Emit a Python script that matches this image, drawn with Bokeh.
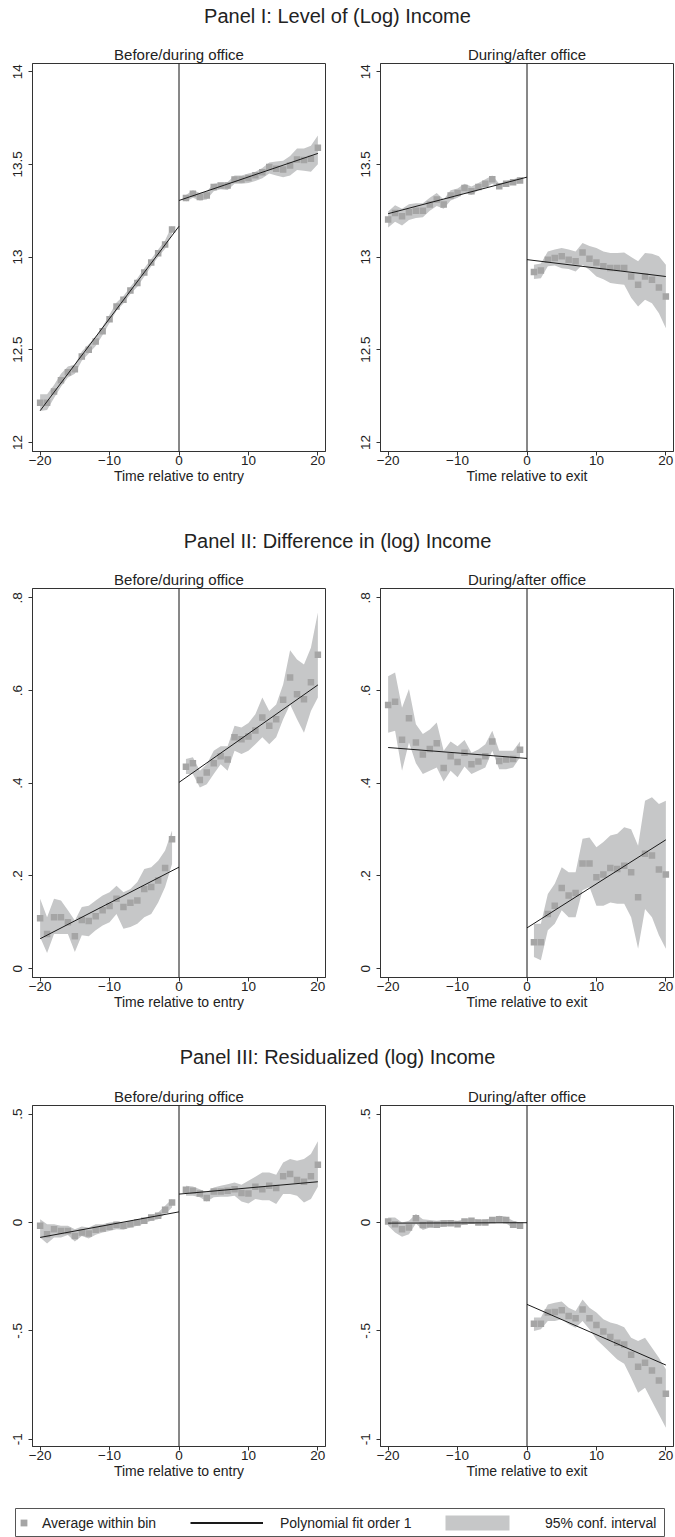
from bokeh.plotting import figure
from bokeh.layouts import column, row
from bokeh.models import Div, Span, FixedTicker, Legend, LegendItem
from bokeh.embed import file_html
from bokeh.resources import INLINE

FONT = "Liberation Sans"
TXT = "#222222"
PT = "#a5a5a5"
BAND = "#c6c7c8"
LINE = "#1a1a1a"
FRAME = "#333333"
NAN = float("nan")

# ---------------- data ----------------
x_before = [-20, -19, -18, -17, -16, -15, -14, -13, -12, -11,
            -10, -9, -8, -7, -6, -5, -4, -3, -2, -1]
x_after = [1, 2, 3, 4, 5, 6, 7, 8, 9, 10,
           11, 12, 13, 14, 15, 16, 17, 18, 19, 20]
fit_x_before = [-20, 0]
fit_x_after = [0, 20]

panel_titles = ["Panel I: Level of (Log) Income",
                "Panel II: Difference in (log) Income",
                "Panel III: Residualized (log) Income"]
sub_titles = ["Before/during office", "During/after office"]
x_labels = ["Time relative to entry", "Time relative to exit"]
x_ticks = [-20, -10, 0, 10, 20]

y_ticks_1 = [12, 12.5, 13, 13.5, 14]
y_tick_labels_1 = ["12", "12.5", "13", "13.5", "14"]
y_ticks_2 = [0, 0.2, 0.4, 0.6, 0.8]
y_tick_labels_2 = ["0", ".2", ".4", ".6", ".8"]
y_ticks_3 = [-1, -0.5, 0, 0.5]
y_tick_labels_3 = ["-1", "-.5", "0", ".5"]

# Panel I, entry
p1a_pts_before = [12.214, 12.214, 12.275, 12.336, 12.378, 12.395, 12.463, 12.500, 12.544, 12.600,
                  12.665, 12.733, 12.770, 12.820, 12.860, 12.917, 12.970, 13.020, 13.067, 13.148]
p1a_lo_before = [12.170, 12.175, 12.240, 12.300, 12.350, 12.370, 12.440, 12.480, 12.520, 12.580,
                 12.645, 12.710, 12.750, 12.800, 12.840, 12.895, 12.950, 13.000, 13.045, 13.125]
p1a_hi_before = [12.260, 12.260, 12.310, 12.370, 12.410, 12.420, 12.490, 12.530, 12.570, 12.625,
                 12.690, 12.755, 12.790, 12.840, 12.885, 12.940, 12.990, 13.040, 13.090, 13.170]
p1a_fit_before = [12.171, 13.166]
p1a_pts_after = [13.319, 13.342, 13.324, 13.332, 13.378, 13.386, 13.386, 13.418, 13.418, 13.427,
                 13.441, 13.458, 13.486, 13.476, 13.472, 13.494, 13.526, 13.523, 13.530, 13.589]
p1a_lo_after = [13.300, 13.320, 13.305, 13.310, 13.355, 13.365, 13.362, 13.395, 13.395, 13.400,
                13.410, 13.425, 13.450, 13.440, 13.430, 13.440, 13.470, 13.465, 13.460, 13.500]
p1a_hi_after = [13.335, 13.360, 13.345, 13.355, 13.395, 13.400, 13.405, 13.440, 13.440, 13.450,
                13.460, 13.480, 13.510, 13.515, 13.520, 13.545, 13.585, 13.585, 13.600, 13.655]
p1a_fit_after = [13.305, 13.559]

# Panel I, exit
p1b_pts_before = [13.202, 13.238, 13.220, 13.241, 13.250, 13.250, 13.283, 13.310, 13.283, 13.332,
                  13.346, 13.373, 13.355, 13.378, 13.396, 13.420, 13.382, 13.396, 13.404, 13.413]
p1b_lo_before = [13.160, 13.190, 13.170, 13.200, 13.210, 13.215, 13.250, 13.275, 13.260, 13.305,
                 13.320, 13.345, 13.335, 13.360, 13.375, 13.395, 13.370, 13.385, 13.390, 13.400]
p1b_hi_before = [13.245, 13.280, 13.260, 13.285, 13.290, 13.290, 13.320, 13.345, 13.310, 13.360,
                 13.370, 13.395, 13.380, 13.400, 13.420, 13.440, 13.395, 13.410, 13.420, 13.430]
p1b_fit_before = [13.234, 13.431]
p1b_pts_after = [12.919, 12.928, 12.986, 12.995, 13.004, 12.986, 12.977, 13.025, 12.991, 12.971,
                 12.950, 12.941, 12.941, 12.941, 12.895, 12.850, 12.895, 12.877, 12.836, 12.787]
p1b_lo_after = [12.881, 12.885, 12.950, 12.955, 12.940, 12.935, 12.922, 12.959, 12.930, 12.895,
                12.880, 12.860, 12.855, 12.850, 12.780, 12.733, 12.770, 12.751, 12.697, 12.616]
p1b_hi_after = [12.959, 12.965, 13.030, 13.040, 13.049, 13.040, 13.030, 13.076, 13.060, 13.049,
                13.030, 13.022, 13.022, 13.025, 13.000, 12.977, 13.022, 13.018, 13.004, 12.959]
p1b_fit_after = [12.986, 12.895]

# Panel II, entry
p2a_pts_before = [0.109, 0.075, 0.111, 0.111, 0.100, 0.070, 0.105, 0.103, 0.113, 0.126,
                  0.135, 0.151, 0.133, 0.142, 0.147, 0.172, 0.176, 0.190, 0.217, 0.279]
p2a_lo_before = [0.068, 0.034, 0.075, 0.075, 0.075, 0.036, 0.072, 0.070, 0.083, 0.093,
                 0.100, 0.118, 0.086, 0.090, 0.097, 0.111, 0.118, 0.143, 0.176, 0.226]
p2a_hi_before = [0.151, 0.111, 0.151, 0.147, 0.126, 0.104, 0.133, 0.136, 0.147, 0.158,
                 0.165, 0.179, 0.165, 0.172, 0.187, 0.215, 0.219, 0.233, 0.255, 0.298]
p2a_fit_before = [0.0646, 0.219]
p2a_pts_after = [0.4355, 0.443, 0.407, 0.423, 0.443, 0.458, 0.451, 0.499, 0.495, 0.501,
                 0.514, 0.542, 0.524, 0.538, 0.580, 0.628, 0.592, 0.581, 0.618, 0.677]
p2a_lo_after = [0.420, 0.420, 0.391, 0.398, 0.420, 0.441, 0.427, 0.470, 0.463, 0.470,
                0.484, 0.499, 0.484, 0.499, 0.538, 0.570, 0.538, 0.509, 0.556, 0.585]
p2a_hi_after = [0.452, 0.456, 0.427, 0.441, 0.470, 0.480, 0.480, 0.524, 0.520, 0.530,
                0.549, 0.585, 0.556, 0.570, 0.613, 0.687, 0.667, 0.656, 0.692, 0.768]
p2a_fit_after = [0.4018, 0.612]

# Panel II, exit
p2b_pts_before = [0.569, 0.576, 0.494, 0.540, 0.488, 0.462, 0.474, 0.486, 0.433, 0.458,
                  0.446, 0.466, 0.441, 0.447, 0.458, 0.490, 0.448, 0.451, 0.452, 0.472]
p2b_lo_before = [0.509, 0.513, 0.427, 0.488, 0.443, 0.420, 0.427, 0.434, 0.404, 0.427,
                 0.413, 0.436, 0.420, 0.427, 0.434, 0.470, 0.430, 0.430, 0.434, 0.456]
p2b_hi_before = [0.631, 0.639, 0.563, 0.603, 0.527, 0.506, 0.516, 0.531, 0.470, 0.490,
                 0.480, 0.493, 0.466, 0.473, 0.484, 0.513, 0.470, 0.470, 0.470, 0.490]
p2b_fit_before = [0.477, 0.4535]
p2b_pts_after = [0.057, 0.057, 0.118, 0.136, 0.174, 0.158, 0.163, 0.227, 0.227, 0.197,
                 0.203, 0.217, 0.215, 0.222, 0.208, 0.154, 0.248, 0.244, 0.214, 0.203]
p2b_lo_after = [0.025, 0.018, 0.083, 0.097, 0.126, 0.111, 0.111, 0.169, 0.176, 0.136,
                0.136, 0.143, 0.140, 0.140, 0.111, 0.043, 0.129, 0.111, 0.072, 0.043]
p2b_hi_after = [0.097, 0.097, 0.161, 0.183, 0.219, 0.208, 0.208, 0.280, 0.283, 0.262,
                0.273, 0.287, 0.291, 0.305, 0.301, 0.265, 0.362, 0.370, 0.355, 0.362]
p2b_fit_after = [0.088, 0.278]

# Panel III, entry
p3a_pts_before = [-0.015, -0.054, -0.031, -0.039, -0.039, -0.062, -0.046, -0.051, -0.034, -0.028,
                  -0.020, -0.011, -0.015, -0.008, 0.000, 0.008, 0.023, 0.031, 0.059, 0.092]
p3a_lo_before = [-0.069, -0.097, -0.069, -0.069, -0.058, -0.088, -0.062, -0.074, -0.057, -0.046,
                 -0.039, -0.031, -0.034, -0.023, -0.015, -0.005, 0.008, 0.015, 0.039, 0.069]
p3a_hi_before = [0.015, -0.008, -0.008, -0.015, -0.015, -0.031, -0.018, -0.023, -0.008, -0.008,
                 0.000, 0.003, 0.000, 0.008, 0.011, 0.018, 0.034, 0.046, 0.077, 0.108]
p3a_fit_before = [-0.069, 0.049]
p3a_pts_after = [0.151, 0.146, 0.134, 0.113, 0.143, 0.143, 0.146, 0.154, 0.136, 0.134,
                 0.165, 0.154, 0.170, 0.159, 0.213, 0.224, 0.196, 0.188, 0.213, 0.267]
p3a_lo_after = [0.123, 0.123, 0.116, 0.097, 0.116, 0.119, 0.119, 0.123, 0.097, 0.088,
                0.108, 0.103, 0.103, 0.085, 0.131, 0.131, 0.123, 0.092, 0.108, 0.165]
p3a_hi_after = [0.170, 0.166, 0.154, 0.139, 0.162, 0.170, 0.177, 0.185, 0.174, 0.193,
                0.211, 0.231, 0.231, 0.220, 0.277, 0.293, 0.285, 0.293, 0.316, 0.375]
p3a_fit_after = [0.131, 0.188]

# Panel III, exit
p3b_pts_before = [0.005, -0.008, -0.031, -0.023, 0.020, -0.012, -0.008, -0.011, -0.005, -0.003,
                  -0.008, 0.005, 0.008, 0.000, 0.000, 0.012, 0.015, 0.012, -0.011, -0.015]
p3b_lo_before = [-0.015, -0.046, -0.066, -0.054, -0.005, -0.035, -0.023, -0.026, -0.018, -0.015,
                 -0.018, -0.008, -0.005, -0.011, -0.011, 0.000, 0.000, -0.005, -0.026, -0.026]
p3b_hi_before = [0.023, 0.023, 0.000, 0.008, 0.039, 0.015, 0.011, 0.008, 0.011, 0.011,
                 0.008, 0.015, 0.020, 0.011, 0.011, 0.023, 0.031, 0.026, 0.008, 0.000]
p3b_fit_before = [-0.003, -0.001]
p3b_pts_after = [-0.467, -0.467, -0.416, -0.413, -0.405, -0.432, -0.442, -0.402, -0.442, -0.473,
                 -0.503, -0.529, -0.555, -0.563, -0.611, -0.666, -0.647, -0.683, -0.729, -0.791]
p3b_lo_after = [-0.501, -0.493, -0.455, -0.455, -0.447, -0.470, -0.486, -0.455, -0.493, -0.540,
                -0.570, -0.601, -0.632, -0.652, -0.717, -0.786, -0.763, -0.825, -0.886, -0.948]
p3b_hi_after = [-0.439, -0.439, -0.378, -0.370, -0.365, -0.393, -0.408, -0.355, -0.393, -0.416,
                -0.447, -0.462, -0.470, -0.483, -0.532, -0.547, -0.532, -0.578, -0.624, -0.678]
p3b_fit_after = [-0.378, -0.658]

legend_labels = ["Average within bin", "Polynomial fit order 1", "95% conf. interval"]


def make_panel(sub, xlabel, yrange, yticks, ylabels, d, left, height, btop, bbot):
    p = figure(width=356 if left else 319, height=height,
               x_range=(-21.1, 21.1), y_range=yrange,
               output_backend="svg", toolbar_location=None,
               min_border_left=32 if left else 24, min_border_right=31 if left else 2,
               min_border_top=btop, min_border_bottom=bbot, title=sub)
    p.title.align = "center"
    p.title.text_font = FONT
    p.title.text_font_size = "15px"
    p.title.text_font_style = "normal"
    p.title.text_color = TXT
    p.title.standoff = 2
    p.xgrid.visible = False
    p.ygrid.visible = False
    p.outline_line_color = FRAME
    p.outline_line_width = 1
    p.background_fill_color = "white"
    p.border_fill_color = "white"

    for ax in (p.xaxis[0], p.yaxis[0]):
        ax.axis_line_color = FRAME
        ax.major_tick_line_color = FRAME
        ax.minor_tick_line_color = None
        ax.major_tick_out = 4
        ax.major_tick_in = 0
        ax.major_label_text_font = FONT
        ax.major_label_text_font_size = "13.5px"
        ax.major_label_text_color = TXT

    p.xaxis.ticker = FixedTicker(ticks=x_ticks)
    p.xaxis.major_label_standoff = 0
    p.xaxis.axis_label = xlabel
    p.xaxis.axis_label_text_font = FONT
    p.xaxis.axis_label_text_font_size = "14px"
    p.xaxis.axis_label_text_font_style = "normal"
    p.xaxis.axis_label_text_color = TXT
    p.xaxis.axis_label_standoff = 0

    p.yaxis.ticker = FixedTicker(ticks=yticks)
    p.yaxis.major_label_overrides = {t: l for t, l in zip(yticks, ylabels)}
    p.yaxis.major_label_orientation = "vertical"
    p.yaxis.major_label_standoff = 6

    p.varea(x=x_before, y1=d["lo_b"], y2=d["hi_b"], fill_color=BAND, fill_alpha=1)
    p.varea(x=x_after, y1=d["lo_a"], y2=d["hi_a"], fill_color=BAND, fill_alpha=1)
    p.scatter(x_before, d["pts_b"], marker="square", size=6.5, fill_color=PT, line_color=None)
    p.scatter(x_after, d["pts_a"], marker="square", size=6.5, fill_color=PT, line_color=None)
    p.line(fit_x_before, d["fit_b"], line_color=LINE, line_width=1)
    p.line(fit_x_after, d["fit_a"], line_color=LINE, line_width=1)
    p.add_layout(Span(location=0, dimension="height", line_color="#111111", line_width=1))
    return p


def pack(pts_b, lo_b, hi_b, fit_b, pts_a, lo_a, hi_a, fit_a):
    return dict(pts_b=pts_b, lo_b=lo_b, hi_b=hi_b, fit_b=fit_b,
                pts_a=pts_a, lo_a=lo_a, hi_a=hi_a, fit_a=fit_a)


d1a = pack(p1a_pts_before, p1a_lo_before, p1a_hi_before, p1a_fit_before,
           p1a_pts_after, p1a_lo_after, p1a_hi_after, p1a_fit_after)
d1b = pack(p1b_pts_before, p1b_lo_before, p1b_hi_before, p1b_fit_before,
           p1b_pts_after, p1b_lo_after, p1b_hi_after, p1b_fit_after)
d2a = pack(p2a_pts_before, p2a_lo_before, p2a_hi_before, p2a_fit_before,
           p2a_pts_after, p2a_lo_after, p2a_hi_after, p2a_fit_after)
d2b = pack(p2b_pts_before, p2b_lo_before, p2b_hi_before, p2b_fit_before,
           p2b_pts_after, p2b_lo_after, p2b_hi_after, p2b_fit_after)
d3a = pack(p3a_pts_before, p3a_lo_before, p3a_hi_before, p3a_fit_before,
           p3a_pts_after, p3a_lo_after, p3a_hi_after, p3a_fit_after)
d3b = pack(p3b_pts_before, p3b_lo_before, p3b_hi_before, p3b_fit_before,
           p3b_pts_after, p3b_lo_after, p3b_hi_after, p3b_fit_after)

yr1 = (11.951, 14.044)
yr2 = (-0.019, 0.820)
yr3 = (-1.034, 0.540)

rows_cfg = [
    (yr1, y_ticks_1, y_tick_labels_1, d1a, d1b, 482, 25, 69),
    (yr2, y_ticks_2, y_tick_labels_2, d2a, d2b, 474, 26, 59),
    (yr3, y_ticks_3, y_tick_labels_3, d3a, d3b, 420, 27, 52),
]
div_cfg = [(38, 32), (42, 42), (42, 42)]


def title_div(text, h, lh):
    return Div(text=text, width=675, height=h, margin=(0, 0, 0, 0),
               styles={"font-family": "'Liberation Sans', Arial, sans-serif",
                       "font-size": "20px", "line-height": f"{lh}px",
                       "text-align": "center", "color": TXT, "width": "675px"})


children = []
for i, (yr, yt, yl, da, db, h, bt, bb) in enumerate(rows_cfg):
    dh, lh = div_cfg[i]
    children.append(title_div(panel_titles[i], dh, lh))
    pa = make_panel(sub_titles[0], x_labels[0], yr, yt, yl, da, True, h, bt, bb)
    pb = make_panel(sub_titles[1], x_labels[1], yr, yt, yl, db, False, h, bt, bb)
    children.append(row(pa, pb, spacing=0))

# legend strip
lg = figure(width=675, height=39, x_range=(0, 1), y_range=(0, 1),
            output_backend="svg", toolbar_location=None,
            x_axis_type=None, y_axis_type=None,
            min_border_left=15, min_border_right=11, min_border_top=10, min_border_bottom=1)
lg.xgrid.visible = False
lg.ygrid.visible = False
lg.outline_line_color = "#555555"
lg.outline_line_width = 1
r1 = lg.scatter(x=[NAN], y=[NAN], marker="square", fill_color=PT, line_color=None)
r2 = lg.line(x=[NAN, NAN], y=[NAN, NAN], line_color=LINE, line_width=2)
r3 = lg.varea(x=[NAN, NAN], y1=[NAN, NAN], y2=[NAN, NAN], fill_color=BAND)

leg_cfg = [(r1, legend_labels[0], (0, 5), 17, 17, 10),
           (r2, legend_labels[1], (175, 5), 73, 17, 17),
           (r3, legend_labels[2], (422, 4), 80, 19, 28)]
for rend, lab, loc, gw, gh, st in leg_cfg:
    L = Legend(items=[LegendItem(label=lab, renderers=[rend])], location=loc,
               orientation="horizontal", glyph_width=gw, glyph_height=gh, label_height=gh,
               label_standoff=st, padding=0, margin=0, spacing=0,
               border_line_color=None, background_fill_alpha=0,
               label_text_font=FONT, label_text_font_size="14px", label_text_color=TXT)
    lg.add_layout(L)

children.append(lg)
layout = column(*children, spacing=0)

open("out.html", "w").write(file_html(layout, INLINE))
